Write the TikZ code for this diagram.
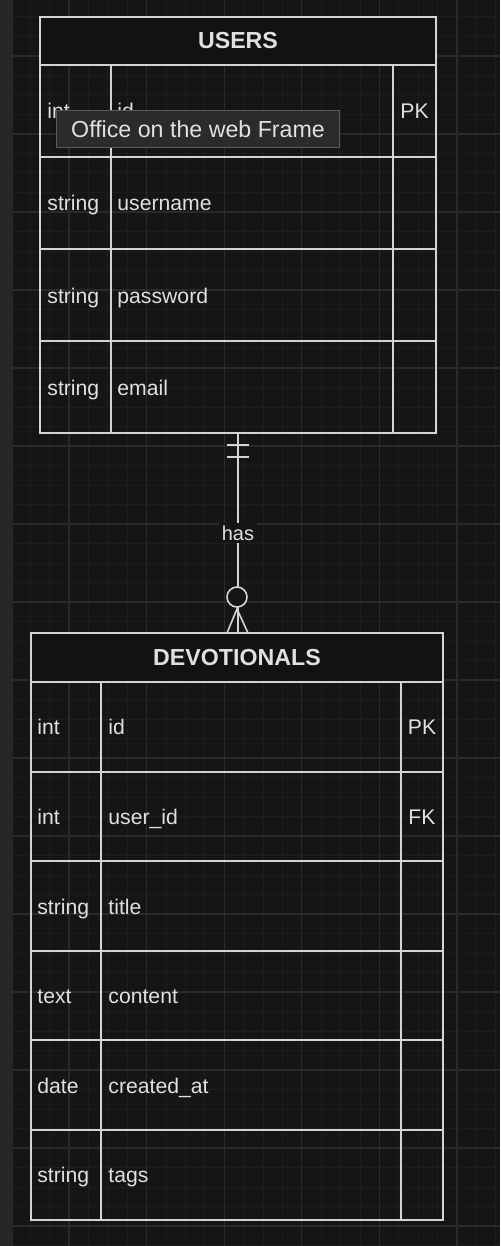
\documentclass[tikz,border=0pt]{standalone}
\usepackage{fontspec}
\setmainfont{Liberation Sans}
\usetikzlibrary{positioning}

\definecolor{canvas}{HTML}{151515}
\definecolor{sidebar}{HTML}{272727}
\definecolor{gridminor}{HTML}{1D1D1D}
\definecolor{gridmajor}{HTML}{2A2A2A}
\definecolor{ink}{HTML}{D4D4D4}
\definecolor{txt}{HTML}{E0E0E0}
\definecolor{headfill}{HTML}{121212}
\definecolor{tipbg}{HTML}{2B2B2B}
\definecolor{tipline}{HTML}{5A5A5A}

\begin{document}
\begin{tikzpicture}[
  x=0.5pt, y=-0.5pt,
  tblhead/.style={
    rectangle, draw=ink, fill=headfill, line width=1pt,
    inner sep=0pt, outer sep=0pt, minimum height=24pt,
    text=txt, font=\fontsize{11.6}{13}\selectfont\bfseries
  },
  tblrow/.style={
    rectangle, draw=ink, line width=1pt,
    inner sep=0pt, outer sep=0pt
  },
  cell/.style={anchor=base west, inner sep=0pt, text=txt, font=\fontsize{10.6}{12}\selectfont},
  keycell/.style={cell, anchor=base},
  link/.style={draw=ink, line width=0.8pt},
  lbl/.style={fill=canvas, inner sep=1.5pt, text=txt, font=\fontsize{10}{12}\selectfont},
  tip/.style={
    rectangle, draw=tipline, fill=tipbg, line width=0.5pt,
    inner sep=0pt, minimum width=141.5pt, minimum height=18.5pt,
    text=txt!95!white, font=\fontsize{11.6}{13}\selectfont
  }
]

% canvas and grid
\useasboundingbox (0,0) rectangle (500,1246);
\fill[canvas] (0,0) rectangle (500,1246);
\fill[sidebar] (0,0) rectangle (13,1246);
\begin{scope}
  \clip (13,0) rectangle (500,1246);
  \begin{scope}[shift={(69,56)}]
    \draw[gridminor, line width=0.5pt, xstep=9.7pt, ystep=9.75pt] (-69,-56) grid (431,1190);
    \draw[gridmajor, line width=0.6pt, xstep=38.8pt, ystep=39pt] (-69,-56) grid (431,1190);
  \end{scope}
\end{scope}

% USERS
\node[tblhead, anchor=north west, minimum width=198pt] (usershead) at (40,17) {USERS};
\node[tblrow, minimum width=198pt, minimum height=46pt, below=0pt of usershead] (u1) {};
\node[tblrow, minimum width=198pt, minimum height=46pt, below=0pt of u1] (u2) {};
\node[tblrow, minimum width=198pt, minimum height=46pt, below=0pt of u2] (u3) {};
\node[tblrow, minimum width=198pt, minimum height=46pt, below=0pt of u3] (u4) {};
\draw[link, line width=1pt] (111,0 |- usershead.south) -- (111,0 |- u4.south);
\draw[link, line width=1pt] (393,0 |- usershead.south) -- (393,0 |- u4.south);

\node[cell] (u1t) at ([shift={(7,8)}]u1.west) {int};
\node[cell] (u1n) at ([shift={(77,8)}]u1.west) {id};
\node[keycell] (u1k) at ([shift={(-21.5,8)}]u1.east) {PK};
\node[cell] (u2t) at ([shift={(7,8)}]u2.west) {string};
\node[cell] (u2n) at ([shift={(77,8)}]u2.west) {username};
\node[cell] (u3t) at ([shift={(7,8)}]u3.west) {string};
\node[cell] (u3n) at ([shift={(77,8)}]u3.west) {password};
\node[cell] (u4t) at ([shift={(7,8)}]u4.west) {string};
\node[cell] (u4n) at ([shift={(77,8)}]u4.west) {email};

% DEVOTIONALS
\node[tblhead, anchor=north west, minimum width=206pt, minimum height=24.5pt] (devhead) at (31,633) {DEVOTIONALS};
\node[tblrow, minimum width=206pt, minimum height=44.8pt, below=0pt of devhead] (d1) {};
\node[tblrow, minimum width=206pt, minimum height=44.8pt, below=0pt of d1] (d2) {};
\node[tblrow, minimum width=206pt, minimum height=44.8pt, below=0pt of d2] (d3) {};
\node[tblrow, minimum width=206pt, minimum height=44.8pt, below=0pt of d3] (d4) {};
\node[tblrow, minimum width=206pt, minimum height=44.8pt, below=0pt of d4] (d5) {};
\node[tblrow, minimum width=206pt, minimum height=44.8pt, below=0pt of d5] (d6) {};
\draw[link, line width=1pt] (101,0 |- devhead.south) -- (101,0 |- d6.south);
\draw[link, line width=1pt] (401,0 |- devhead.south) -- (401,0 |- d6.south);

\node[cell] (d1t) at ([shift={(6,8)}]d1.west) {int};
\node[cell] (d1n) at ([shift={(77,8)}]d1.west) {id};
\node[keycell] (d1k) at ([shift={(-21,8)}]d1.east) {PK};
\node[cell] (d2t) at ([shift={(6,8)}]d2.west) {int};
\node[cell] (d2n) at ([shift={(77,8)}]d2.west) {user\_id};
\node[keycell] (d2k) at ([shift={(-21,8)}]d2.east) {FK};
\node[cell] (d3t) at ([shift={(6,8)}]d3.west) {string};
\node[cell] (d3n) at ([shift={(77,8)}]d3.west) {title};
\node[cell] (d4t) at ([shift={(6,8)}]d4.west) {text};
\node[cell] (d4n) at ([shift={(77,8)}]d4.west) {content};
\node[cell] (d5t) at ([shift={(6,8)}]d5.west) {date};
\node[cell] (d5n) at ([shift={(77,8)}]d5.west) {created\_at};
\node[cell] (d6t) at ([shift={(6,8)}]d6.west) {string};
\node[cell] (d6n) at ([shift={(77,8)}]d6.west) {tags};

% relationship: one and only one -- zero or many
\draw[link] (u4.south) -- node[lbl] (has) {has} (u4.south |- devhead.north);
\draw[link] ([shift={(-11,12)}]u4.south) -- ++(22,0);
\draw[link] ([shift={(-11,24)}]u4.south) -- ++(22,0);
\draw[link, fill=canvas] ([shift={(-1,164)}]u4.south) circle[radius=5pt];
\draw[link] ([shift={(-10,0)}]devhead.north) -- ([shift={(0,-24)}]devhead.north) -- ([shift={(11,0)}]devhead.north);

% browser tooltip
\node[tip, anchor=north west] (tooltip) at (56,110) {Office on the web Frame};

\end{tikzpicture}
\end{document}
